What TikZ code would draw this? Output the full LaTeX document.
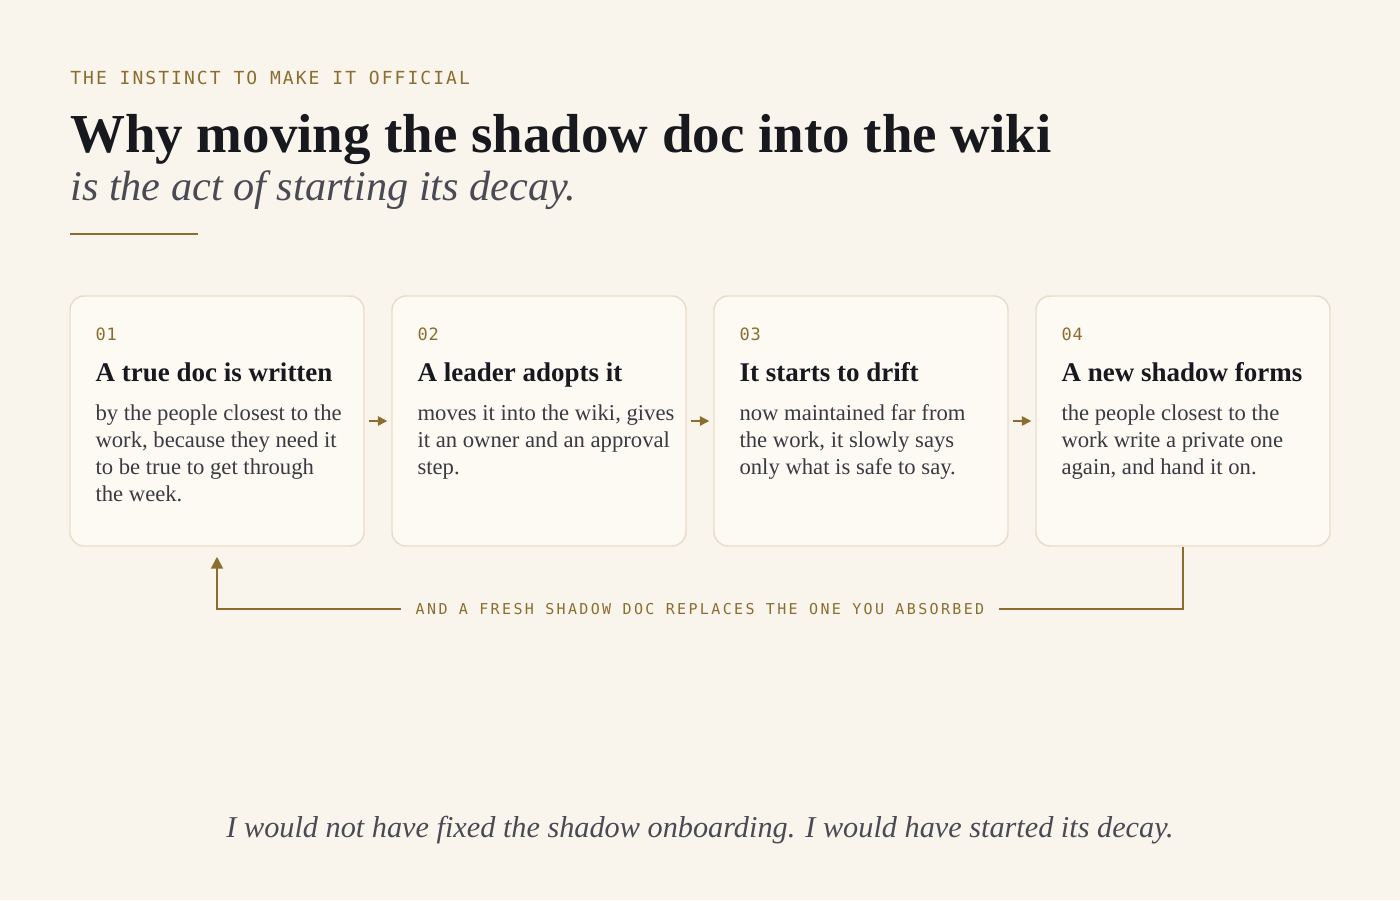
\documentclass[tikz,border=0pt]{standalone}
\usepackage{fontspec}
\setmainfont{Liberation Serif}
\newfontfamily\monofont{DejaVu Sans Mono}
\usetikzlibrary{positioning,calc,arrows.meta}

\definecolor{paper}{HTML}{F9F5EC}
\definecolor{cardfill}{HTML}{FCFAF3}
\definecolor{cardline}{HTML}{E7DEC9}
\definecolor{gold}{HTML}{8B6D2F}
\definecolor{ink}{HTML}{18181F}
\definecolor{slate}{HTML}{4A4A55}
\definecolor{bodyink}{HTML}{3A3A42}

\tikzset{
  kicker/.style={anchor=base west,inner sep=0pt,text=gold,
    font=\monofont\addfontfeature{LetterSpace=11.3}\fontsize{13.5}{16}\selectfont},
  headline/.style={anchor=base west,inner sep=0pt,text=ink,
    font=\bfseries\fontsize{41.2}{48}\selectfont},
  subline/.style={anchor=base west,inner sep=0pt,text=slate,
    font=\itshape\fontsize{31.7}{38}\selectfont},
  card/.style={draw=cardline,fill=cardfill,line width=1.1pt,rounded corners=10.5pt,
    minimum width=220.5pt,minimum height=187.5pt,inner sep=0pt},
  cardnum/.style={anchor=base west,inner sep=0pt,text=gold,
    font=\monofont\addfontfeature{LetterSpace=5}\fontsize{12.75}{15}\selectfont},
  cardtitle/.style={anchor=base west,inner sep=0pt,text=ink,
    font=\bfseries\fontsize{20.25}{24}\selectfont},
  cardtext/.style={anchor=north west,inner sep=0pt,text=bodyink,align=left,
    font=\fontsize{17}{20.25}\selectfont,execute at begin node=\strut},
  flow/.style={draw=gold,line width=1.1pt,shorten <=3pt,shorten >=3pt,
    -{Triangle[length=7pt,width=7pt]}},
  loopline/.style={draw=gold,line width=1.5pt},
  backlabel/.style={inner xsep=10.5pt,inner ysep=0pt,text=gold,
    font=\monofont\addfontfeature{LetterSpace=15.7}\fontsize{11.25}{14}\selectfont},
  closing/.style={anchor=base,inner sep=0pt,text=slate,
    font=\itshape\fontsize{22.7}{28}\selectfont}
}

\begin{document}
\begin{tikzpicture}[x=0.75pt,y=-0.75pt,node distance=19.9pt]
  \useasboundingbox[fill=paper] (0,0) rectangle (1400,900);

  \node[kicker] (kick) at (70,84) {THE INSTINCT TO MAKE IT OFFICIAL};
  \node[headline] (head) at (70,152) {Why moving the shadow doc into the wiki};
  \node[subline] (sub) at (70,200) {is the act of starting its decay.};
  \draw[gold,line width=1.5pt] (70,234) -- (198,234);

  \node[card] (c1) at (217,421) {};
  \node[card,right=of c1] (c2) {};
  \node[card,right=of c2] (c3) {};
  \node[card,right=of c3] (c4) {};

  \node[cardnum] (n1) at ($(c1.north west)+(26,45)$) {01};
  \node[cardtitle] (t1) at ($(c1.north west)+(26,86.5)$) {A true doc is written};
  \node[cardtext] (b1) at ($(c1.north west)+(26,109)$) {by the people closest to the\\work, because they need it\\to be true to get through\\the week.};

  \node[cardnum] (n2) at ($(c2.north west)+(26,45)$) {02};
  \node[cardtitle] (t2) at ($(c2.north west)+(26,86.5)$) {A leader adopts it};
  \node[cardtext] (b2) at ($(c2.north west)+(26,109)$) {moves it into the wiki, gives\\it an owner and an approval\\step.};

  \node[cardnum] (n3) at ($(c3.north west)+(26,45)$) {03};
  \node[cardtitle] (t3) at ($(c3.north west)+(26,86.5)$) {It starts to drift};
  \node[cardtext] (b3) at ($(c3.north west)+(26,109)$) {now maintained far from\\the work, it slowly says\\only what is safe to say.};

  \node[cardnum] (n4) at ($(c4.north west)+(26,45)$) {04};
  \node[cardtitle] (t4) at ($(c4.north west)+(26,86.5)$) {A new shadow forms};
  \node[cardtext] (b4) at ($(c4.north west)+(26,109)$) {the people closest to the\\work write a private one\\again, and hand it on.};

  \path (c1) edge[flow] (c2);
  \path (c2) edge[flow] (c3);
  \path (c3) edge[flow] (c4);

  \node[backlabel] (back) at (700,609) {AND A FRESH SHADOW DOC REPLACES THE ONE YOU ABSORBED};
  \draw[loopline] (c4.south) |- (back.east);
  \draw[loopline,-{Triangle[length=9pt,width=9pt]}] (back.west) -| ($(c1.south)+(0,10)$);

  \node[closing] (quote) at (700,837) {I would not have fixed the shadow onboarding. I would have started its decay.};
\end{tikzpicture}
\end{document}
